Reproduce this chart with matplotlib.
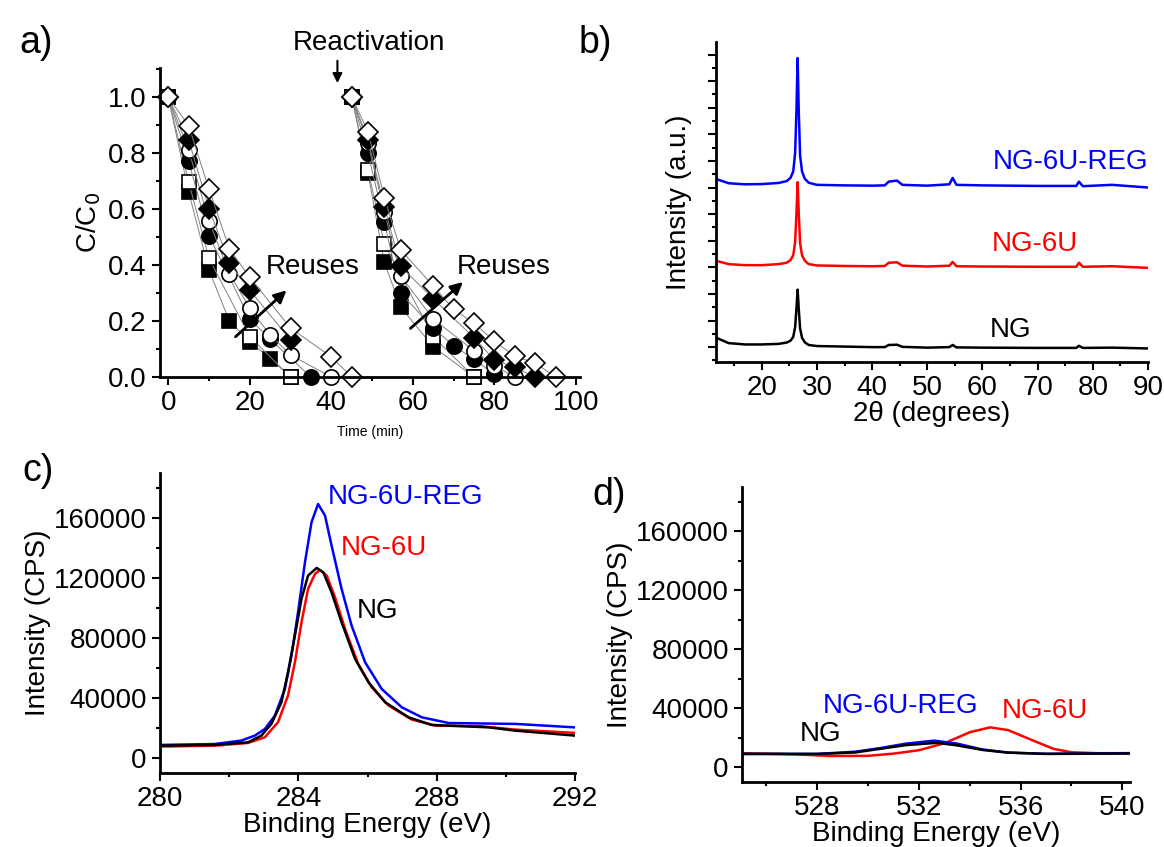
import matplotlib
matplotlib.use('Agg')
import matplotlib.pyplot as plt
from matplotlib.ticker import MultipleLocator, NullFormatter, FormatStrFormatter

plt.rcParams['font.family'] = ['Liberation Sans', 'DejaVu Sans']
plt.rcParams['font.size'] = 20

# ---- panel a: C/C0 vs time, six reuses, two cycles ----
t_fsq1 = [0, 5, 10, 15, 20, 25, 30]
fsq1 = [1.0, 0.662, 0.382, 0.200, 0.126, 0.066, 0.0]
t_osq1 = [0, 5, 10, 20, 30]
osq1 = [1.0, 0.698, 0.424, 0.144, 0.0]
t_fci1 = [0, 5, 10, 20, 25, 35]
fci1 = [1.0, 0.772, 0.505, 0.207, 0.135, 0.0]
t_oci1 = [0, 5, 10, 15, 20, 25, 30, 40]
oci1 = [1.0, 0.812, 0.558, 0.369, 0.246, 0.150, 0.079, 0.0]
t_fdi1 = [0, 5, 10, 15, 20, 30]
fdi1 = [1.0, 0.848, 0.602, 0.408, 0.310, 0.132]
t_odi1 = [0, 5, 10, 15, 20, 30, 40, 45]
odi1 = [1.0, 0.898, 0.672, 0.458, 0.356, 0.175, 0.072, 0.0]

t_fsq2 = [45, 49, 53, 57, 65, 75]
fsq2 = [1.0, 0.728, 0.410, 0.250, 0.108, 0.0]
t_osq2 = [45, 49, 53, 65, 75]
osq2 = [1.0, 0.740, 0.475, 0.144, 0.0]
t_fci2 = [45, 49, 53, 57, 65, 70, 75, 80]
fci2 = [1.0, 0.800, 0.553, 0.300, 0.175, 0.112, 0.063, 0.01]
t_oci2 = [45, 49, 53, 57, 65, 75, 80, 85]
oci2 = [1.0, 0.835, 0.591, 0.362, 0.207, 0.094, 0.040, 0.0]
t_fdi2 = [45, 49, 53, 57, 65, 75, 80, 85, 90]
fdi2 = [1.0, 0.847, 0.609, 0.395, 0.280, 0.140, 0.061, 0.034, 0.0]
t_odi2 = [45, 49, 53, 57, 65, 70, 75, 80, 85, 90, 95]
odi2 = [1.0, 0.877, 0.641, 0.455, 0.325, 0.242, 0.192, 0.128, 0.074, 0.050, 0.0]

# ---- panel b: XRD ----
xrd_2theta = [12, 14, 17, 20, 23, 24.5, 25.2, 25.7, 26.05, 26.3, 26.5, 26.7, 26.95,
              27.3, 27.8, 28.5, 30, 35, 40, 42.3, 43, 44.5, 45.5, 50, 54, 54.6, 55.3,
              60, 70, 77, 77.5, 78.2, 83.5, 90]
xrd_ng = [1.33, 1.15, 1.10, 1.10, 1.12, 1.17, 1.24, 1.38, 1.75, 2.50, 3.16, 2.45,
          1.70, 1.35, 1.18, 1.08, 1.04, 1.02, 1.00, 1.00, 1.08, 1.09, 1.01, 0.98,
          1.00, 1.08, 0.99, 0.98, 0.97, 0.97, 1.05, 0.97, 0.98, 0.95]
xrd_6u = [4.23, 4.12, 4.08, 4.08, 4.12, 4.17, 4.27, 4.45, 4.95, 6.10, 7.20, 6.05,
          4.90, 4.45, 4.25, 4.12, 4.07, 4.05, 4.04, 4.05, 4.17, 4.19, 4.06, 4.03,
          4.06, 4.20, 4.04, 4.03, 4.02, 4.02, 4.17, 4.02, 4.04, 3.98]
xrd_reg = [7.30, 7.16, 7.12, 7.13, 7.17, 7.24, 7.36, 7.60, 8.30, 10.00, 11.87, 9.90,
           8.20, 7.60, 7.33, 7.18, 7.10, 7.08, 7.07, 7.08, 7.22, 7.26, 7.10, 7.07,
           7.12, 7.36, 7.10, 7.08, 7.06, 7.06, 7.22, 7.05, 7.10, 7.00]

# ---- panel c: XPS C1s ----
c_reg_e = [280.0, 281.58, 282.35, 282.74, 283.03, 283.32, 283.61, 283.80, 283.99,
           284.19, 284.38, 284.57, 284.77, 284.96, 285.25, 285.54, 285.93, 286.41,
           286.99, 287.57, 288.35, 290.28, 292.0]
c_reg_i = [8700, 9300, 11600, 14900, 19300, 28200, 46000, 68200, 97100,
           130400, 157100, 169300, 161600, 141600, 112700, 88200, 63800, 46000,
           33800, 27100, 23300, 22700, 20400]
c_ng_e = [280.0, 281.58, 282.54, 282.93, 283.22, 283.51, 283.70, 283.90, 284.09,
          284.28, 284.53, 284.72, 284.96, 285.25, 285.64, 286.03, 286.51, 287.19,
          287.86, 288.83, 289.51, 290.28, 292.0]
c_ng_i = [8200, 8700, 10400, 14900, 22700, 37100, 57100, 81600, 106000,
          121600, 126700, 123800, 110400, 90400, 66000, 50400, 37100, 27100,
          22000, 21100, 20400, 18200, 14900]
c_6u_e = [280.0, 281.58, 282.54, 283.03, 283.41, 283.70, 283.90, 284.09, 284.28,
          284.48, 284.62, 284.82, 285.06, 285.35, 285.73, 286.12, 286.61, 287.28,
          287.96, 289.31, 290.28, 292.0]
c_6u_i = [7600, 8200, 10000, 13800, 23800, 41600, 63800, 90400, 112700,
          122700, 125300, 121600, 107100, 86000, 62700, 47100, 34900, 25600,
          21600, 21100, 18900, 16700]

# ---- panel d: XPS O1s ----
d_ng_e = [525.0, 528.0, 529.5, 530.5, 531.5, 532.7, 533.5, 534.5, 535.5, 537.0, 540.3]
d_ng_i = [9000, 9000, 10000, 12500, 15000, 16500, 14800, 11700, 9900, 9000, 9300]
d_reg_e = [525.0, 528.0, 529.5, 530.5, 531.5, 532.6, 533.5, 534.5, 535.5, 537.0, 540.3]
d_reg_i = [9000, 9000, 10500, 13000, 16000, 18000, 16000, 12000, 9900, 9100, 9500]
d_6u_e = [525.0, 527.0, 528.5, 530.0, 531.0, 532.0, 533.0, 534.0, 534.8, 535.5, 536.5,
          537.3, 538.0, 539.0, 540.3]
d_6u_i = [9500, 8800, 7600, 7700, 9200, 11500, 16200, 23700, 27000, 25200, 18000,
          12400, 10100, 9500, 9500]


def style_axes(ax):
    for side in ['top', 'right']:
        ax.spines[side].set_visible(False)
    for side in ['left', 'bottom']:
        ax.spines[side].set_linewidth(2)
    ax.tick_params(which='major', direction='out', length=6, width=1.5, labelsize=20)
    ax.tick_params(which='minor', direction='out', length=3, width=1.5)


fig = plt.figure(figsize=(11.64, 8.47), dpi=100)

# a)
ax_a = fig.add_axes([0.1375, 0.5549, 0.3608, 0.3648])
series = [
    (t_fsq1, fsq1, t_fsq2, fsq2, 's', 'black', 10),
    (t_osq1, osq1, t_osq2, osq2, 's', 'white', 10),
    (t_fci1, fci1, t_fci2, fci2, 'o', 'black', 11),
    (t_oci1, oci1, t_oci2, oci2, 'o', 'white', 11),
    (t_fdi1, fdi1, t_fdi2, fdi2, 'D', 'black', 10),
    (t_odi1, odi1, t_odi2, odi2, 'D', 'white', 10),
]
for ta, ya, tb, yb, mk, fc, ms in series:
    for tt, yy in [(ta, ya), (tb, yb)]:
        ax_a.plot(tt, yy, color='gray', lw=0.7, marker=mk, ms=ms, mfc=fc,
                  mec='black', mew=1.2, clip_on=False)
ax_a.set_xlim(-2, 101)
ax_a.set_ylim(0, 1.104)
ax_a.xaxis.set_major_locator(MultipleLocator(20))
ax_a.xaxis.set_minor_locator(MultipleLocator(10))
ax_a.yaxis.set_major_locator(MultipleLocator(0.2))
ax_a.yaxis.set_minor_locator(MultipleLocator(0.1))
ax_a.yaxis.set_major_formatter(FormatStrFormatter('%.1f'))
style_axes(ax_a)
ax_a.set_xlabel('Time (min)', fontsize=10, labelpad=6)
ax_a.set_ylabel('C/C$_0$', fontsize=20, labelpad=4)
ax_a.annotate('', xy=(29.5, 0.316), xytext=(16, 0.137),
              arrowprops=dict(arrowstyle='-|>', color='black', lw=2, mutation_scale=18))
ax_a.text(24, 0.394, 'Reuses', fontsize=20, va='center', ha='left')
ax_a.annotate('', xy=(72.8, 0.346), xytext=(58.9, 0.167),
              arrowprops=dict(arrowstyle='-|>', color='black', lw=2, mutation_scale=18))
ax_a.text(70.8, 0.394, 'Reuses', fontsize=20, va='center', ha='left')
ax_a.annotate('', xy=(41.5, 1.04), xytext=(41.5, 1.14), annotation_clip=False,
              arrowprops=dict(arrowstyle='-|>', color='black', lw=1.5, mutation_scale=14))
ax_a.text(49.2, 1.195, 'Reactivation', fontsize=20, ha='center', va='center', clip_on=False)

# b)
ax_b = fig.add_axes([0.6151, 0.5726, 0.3711, 0.3778])
ax_b.plot(xrd_2theta, xrd_ng, color='black', lw=1.8)
ax_b.plot(xrd_2theta, xrd_6u, color='red', lw=1.8)
ax_b.plot(xrd_2theta, xrd_reg, color='blue', lw=1.8)
ax_b.set_xlim(11.7, 90)
ax_b.set_ylim(0.44, 12.47)
ax_b.xaxis.set_major_locator(MultipleLocator(10))
ax_b.xaxis.set_minor_locator(MultipleLocator(5))
ax_b.yaxis.set_major_locator(MultipleLocator(1))
ax_b.yaxis.set_minor_locator(MultipleLocator(0.5))
ax_b.yaxis.set_major_formatter(NullFormatter())
style_axes(ax_b)
ax_b.set_xlabel('2θ (degrees)', fontsize=20, labelpad=0)
ax_b.set_ylabel('Intensity (a.u.)', fontsize=20, labelpad=8)
ax_b.text(61.8, 7.95, 'NG-6U-REG', color='blue', fontsize=20, va='center')
ax_b.text(61.7, 4.86, 'NG-6U', color='red', fontsize=20, va='center')
ax_b.text(61.3, 1.64, 'NG', color='black', fontsize=20, va='center')

# c)
ax_c = fig.add_axes([0.1375, 0.0874, 0.3565, 0.3542])
ax_c.plot(c_reg_e, c_reg_i, color='blue', lw=1.8)
ax_c.plot(c_6u_e, c_6u_i, color='red', lw=1.8)
ax_c.plot(c_ng_e, c_ng_i, color='black', lw=1.8)
ax_c.set_xlim(280, 292)
ax_c.set_ylim(-10000, 190000)
ax_c.xaxis.set_major_locator(MultipleLocator(4))
ax_c.xaxis.set_minor_locator(MultipleLocator(2))
ax_c.yaxis.set_major_locator(MultipleLocator(40000))
ax_c.yaxis.set_minor_locator(MultipleLocator(20000))
style_axes(ax_c)
ax_c.set_xlabel('Binding Energy (eV)', fontsize=20, labelpad=0)
ax_c.set_ylabel('Intensity (CPS)', fontsize=20, labelpad=2)
ax_c.text(284.86, 173800, 'NG-6U-REG', color='blue', fontsize=20, va='center')
ax_c.text(285.23, 140000, 'NG-6U', color='red', fontsize=20, va='center')
ax_c.text(285.7, 97800, 'NG', color='black', fontsize=20, va='center')

# d)
ax_d = fig.add_axes([0.6375, 0.0768, 0.3333, 0.3483])
ax_d.plot(d_6u_e, d_6u_i, color='red', lw=1.8)
ax_d.plot(d_reg_e, d_reg_i, color='blue', lw=1.8)
ax_d.plot(d_ng_e, d_ng_i, color='black', lw=1.8)
ax_d.set_xlim(525.05, 540.3)
ax_d.set_ylim(-10000, 190000)
ax_d.set_xticks([528, 532, 536, 540])
ax_d.xaxis.set_minor_locator(MultipleLocator(2))
ax_d.yaxis.set_major_locator(MultipleLocator(40000))
ax_d.yaxis.set_minor_locator(MultipleLocator(20000))
style_axes(ax_d)
ax_d.set_xlabel('Binding Energy (eV)', fontsize=20, labelpad=0)
ax_d.set_ylabel('Intensity (CPS)', fontsize=20, labelpad=2)
ax_d.text(528.23, 41700, 'NG-6U-REG', color='blue', fontsize=20, va='center')
ax_d.text(535.24, 38300, 'NG-6U', color='red', fontsize=20, va='center')
ax_d.text(527.3, 22500, 'NG', color='black', fontsize=20, va='center')

# panel letters
fig.text(0.017, 0.97, 'a)', fontsize=27, va='top')
fig.text(0.497, 0.97, 'b)', fontsize=27, va='top')
fig.text(0.019, 0.465, 'c)', fontsize=27, va='top')
fig.text(0.509, 0.437, 'd)', fontsize=27, va='top')

plt.savefig('out.png', dpi=100)
